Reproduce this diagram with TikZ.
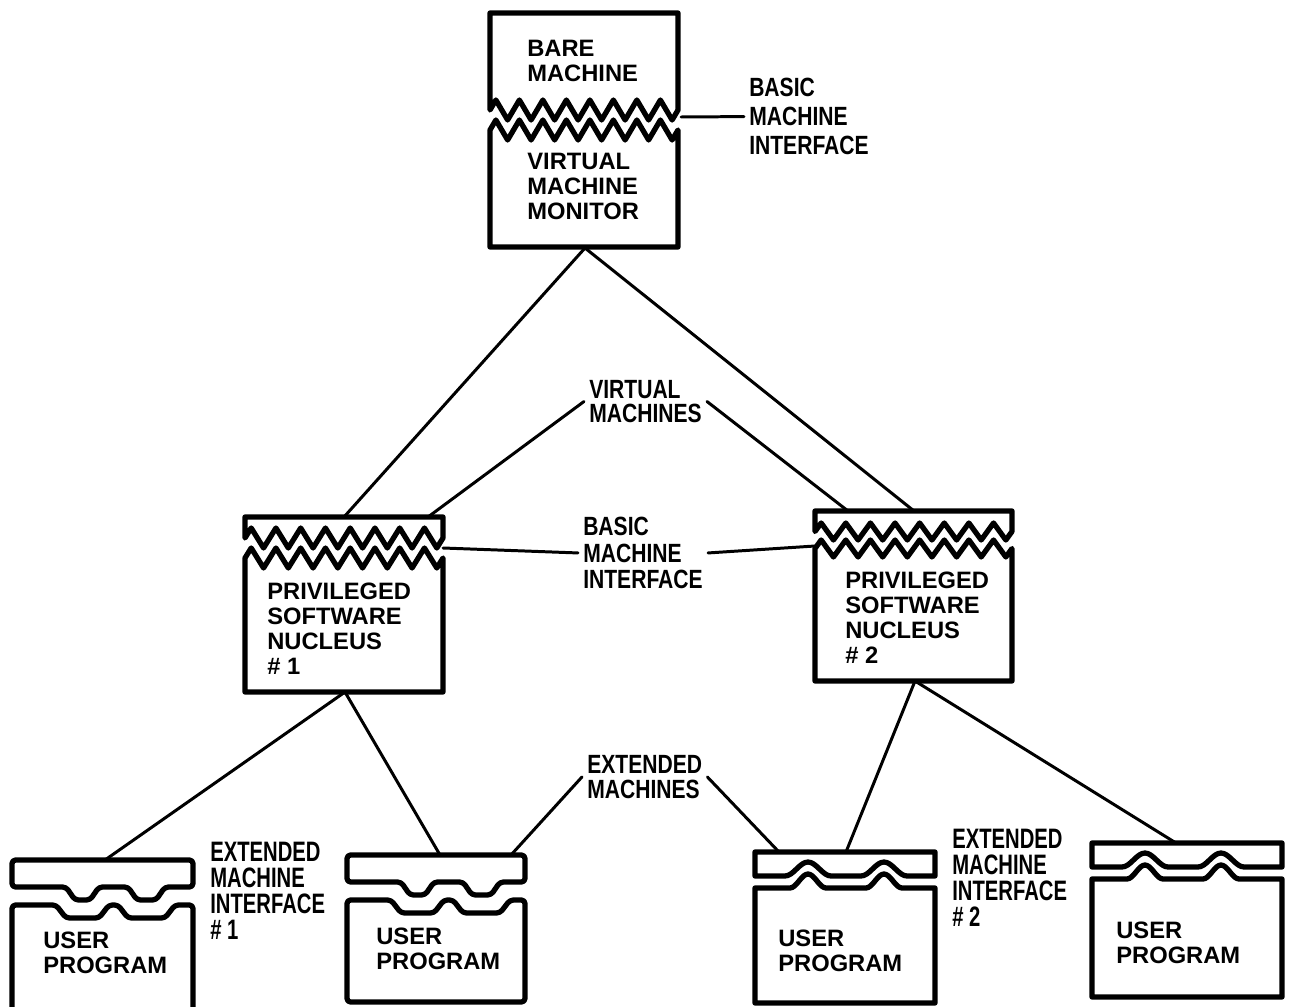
\documentclass[tikz,border=0pt]{standalone}
\usepackage{fontspec}
\setmainfont{Liberation Sans}
\newfontfamily\labelfont[FakeStretch=0.8]{Liberation Sans}
\newfontfamily\narrowfont[FakeStretch=0.72]{Liberation Sans}

% box cut in two by a zigzag: x, top, width, zigzag top, bottom, amplitude
\newcommand{\cutbox}[6]{%
  \draw[boxline] (#1,{#4+#6/2}) -- ++({#3/32},{-#6/2})
    \foreach \k in {1,...,7}{ -- ++({#3/16},#6) -- ++({#3/16},-#6) }
    -- ++({#3/16},#6) -- ++({#3/32},{-#6/2}) -- ({#1+#3},#2) -- (#1,#2) -- cycle;
  \draw[boxline] (#1,{#4+1.5*#6}) -- ++({#3/32},{-#6/2})
    \foreach \k in {1,...,7}{ -- ++({#3/16},#6) -- ++({#3/16},-#6) }
    -- ++({#3/16},#6) -- ++({#3/32},{-#6/2}) -- ({#1+#3},#5) -- (#1,#5) -- cycle;}

% user program with square notches: x, top, width, bottom
\newcommand{\notchbox}[4]{%
  \begin{scope}[shift={(#1,#2)}]
    \draw[boxline, rounded corners=2pt] (0,0) -- (#3,0) -- (#3,27) -- (153,27)
      -- (144,40) -- (125,40) -- (116,27) -- (87,27) -- (78,40) -- (63,40)
      -- (54,27) -- (0,27) -- cycle;
    \draw[boxline, rounded corners=2pt] (0,{#4-#2}) -- (0,45) -- (44,45)
      -- (54,58) -- (87,58) -- (97,45) -- (106,45) -- (116,58) -- (153,58)
      -- (163,45) -- (#3,45) -- (#3,{#4-#2}) -- cycle;
  \end{scope}}

% user program with round bumps: x, top, width, bottom
\newcommand{\bumpbox}[4]{%
  \begin{scope}[shift={(#1,#2)}]
    \draw[boxline] (0,0) -- (#3,0) -- (#3,24) -- (152,24)
      cos (140.5,17) sin (129,10) cos (117.5,17) sin (106,24) -- (76,24)
      cos (64.5,17) sin (53,10) cos (41.5,17) sin (30,24) -- (0,24) -- cycle;
    \draw[boxline] (0,{#4-#2}) -- (0,36) -- (35,36)
      cos (44,29) sin (53,22) cos (62,29) sin (71,36) -- (111,36)
      cos (120,29) sin (129,22) cos (138,29) sin (147,36)
      -- (#3,36) -- (#3,{#4-#2}) -- cycle;
  \end{scope}}

\begin{document}
\begin{tikzpicture}[x=0.02cm, y=-0.02cm,
    boxline/.style={line width=3pt, line join=round},
    wire/.style={line width=1.7pt, line cap=round},
    boxtext/.style={anchor=north west, inner sep=0pt, align=left,
      font=\fontsize{13.5}{14.2}\selectfont\bfseries},
    tag/.style={anchor=north west, inner sep=0pt, outer sep=3pt, align=left,
      font=\labelfont\fontsize{15}{15}\selectfont\bfseries},
    emtag/.style={anchor=north west, inner sep=0pt, align=left,
      font=\narrowfont\fontsize{16}{14.8}\selectfont\bfseries}]
  \useasboundingbox (0,0) rectangle (1289,1007);

  % monitor on the bare machine
  \cutbox{490}{13}{188}{100}{247}{20}
  \node[boxtext] (bare) at (527,40) {BARE\\MACHINE};
  \node[boxtext] (vmm) at (527,153) {VIRTUAL\\MACHINE\\MONITOR};
  \coordinate (vmm-e) at (681,117);
  \coordinate (vmm-s) at (585,248);
  \node[tag, font=\labelfont\fontsize{15}{16.5}\selectfont\bfseries] (bmi-top)
    at (744,73) {BASIC\\MACHINE\\INTERFACE};

  % the two nuclei
  \cutbox{245}{517}{198}{528}{692}{20}
  \node[boxtext] (psn1) at (267,583) {PRIVILEGED\\SOFTWARE\\NUCLEUS\\\# 1};
  \cutbox{815}{511}{197}{523}{681}{17}
  \node[boxtext] (psn2) at (845,572) {PRIVILEGED\\SOFTWARE\\NUCLEUS\\\# 2};
  \coordinate (psn1-nw) at (344,517);
  \coordinate (psn1-ne) at (428,517);
  \coordinate (psn1-e) at (443,548);
  \coordinate (psn1-s) at (345,692);
  \coordinate (psn2-nw) at (848,511);
  \coordinate (psn2-ne) at (914,511);
  \coordinate (psn2-w) at (815,546);
  \coordinate (psn2-s) at (915,681);

  \node[tag, font=\labelfont\fontsize{15}{13.7}\selectfont\bfseries] (vm)
    at (584,375) {VIRTUAL\\MACHINES};
  \node[tag] (bmi-mid) at (578,512) {BASIC\\MACHINE\\INTERFACE};

  % user programs
  \notchbox{12}{860}{181}{1020}
  \notchbox{347}{855}{178}{1002}
  \bumpbox{755}{852}{180}{1003}
  \bumpbox{1092}{843}{190}{997}
  \node[boxtext] (up1) at (43,932) {USER\\PROGRAM};
  \node[boxtext] (up2) at (376,928) {USER\\PROGRAM};
  \node[boxtext] (up3) at (778,930) {USER\\PROGRAM};
  \node[boxtext] (up4) at (1116,922) {USER\\PROGRAM};
  \coordinate (up1-n) at (105,860);
  \coordinate (up2-nw) at (440,855);
  \coordinate (up2-ne) at (511,855);
  \coordinate (up3-nw) at (779,852);
  \coordinate (up3-ne) at (846,852);
  \coordinate (up4-n) at (1176,843);

  \node[tag, font=\labelfont\fontsize{15}{14.2}\selectfont\bfseries] (em)
    at (582,750) {EXTENDED\\MACHINES};
  \node[emtag] (emi1) at (210,842) {EXTENDED\\MACHINE\\INTERFACE\\\# 1};
  \node[emtag] (emi2) at (952,829) {EXTENDED\\MACHINE\\INTERFACE\\\# 2};

  % connectors
  \draw[wire] (vmm-e) -- (bmi-top.west);
  \draw[wire] (vmm-s) -- (psn1-nw);
  \draw[wire] (vmm-s) -- (psn2-ne);
  \draw[wire] (vm.west) -- (psn1-ne);
  \draw[wire] (vm.east) -- (psn2-nw);
  \draw[wire] (psn1-e) -- (bmi-mid.west);
  \draw[wire] (bmi-mid.east) -- (psn2-w);
  \draw[wire] (psn1-s) -- (up1-n);
  \draw[wire] (psn1-s) -- (up2-nw);
  \draw[wire] (psn2-s) -- (up3-ne);
  \draw[wire] (psn2-s) -- (up4-n);
  \draw[wire] (em.west) -- (up2-ne);
  \draw[wire] (em.east) -- (up3-nw);
\end{tikzpicture}
\end{document}
